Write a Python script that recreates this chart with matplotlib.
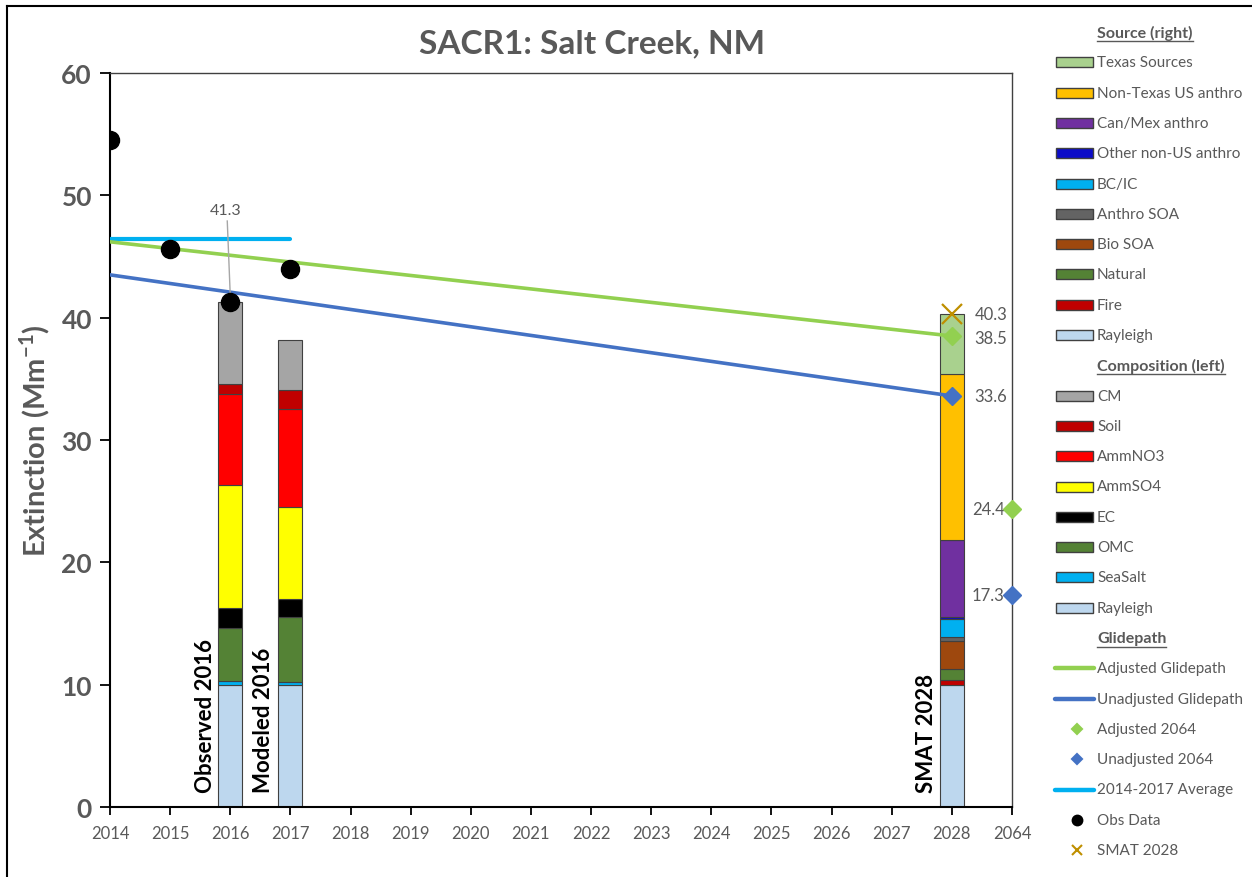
import numpy as np
import matplotlib
matplotlib.use('Agg')
import matplotlib.pyplot as plt
from matplotlib.patches import Rectangle
from matplotlib.lines import Line2D

plt.rcParams['font.family'] = ['Lato', 'DejaVu Sans']
plt.rcParams['mathtext.fontset'] = 'custom'
plt.rcParams['mathtext.rm'] = 'Lato'
plt.rcParams['mathtext.bf'] = 'Lato:bold'

#Datos del grafico
years = ['2014', '2015', '2016', '2017', '2018', '2019', '2020', '2021', '2022',
         '2023', '2024', '2025', '2026', '2027', '2028', '2064']

comp_names = ['Rayleigh', 'SeaSalt', 'OMC', 'EC', 'AmmSO4', 'AmmNO3', 'Soil', 'CM']
comp_colors = ['#BDD7EE', '#00B0F0', '#548235', '#000000', '#FFFF00', '#FF0000', '#C00000', '#A5A5A5']
observed_2016 = [10.0, 0.3, 4.3, 1.7, 10.0, 7.5, 0.8, 6.7]
modeled_2016 = [10.0, 0.2, 5.3, 1.5, 7.5, 8.0, 1.6, 4.1]

src_names = ['Rayleigh', 'Fire', 'Natural', 'Bio SOA', 'Anthro SOA', 'BC/IC',
             'Other non-US anthro', 'Can/Mex anthro', 'Non-Texas US anthro', 'Texas Sources']
src_colors = ['#BDD7EE', '#C00000', '#548235', '#9E480E', '#636363', '#00B0F0',
              '#0C0CC8', '#7030A0', '#FFC000', '#A9D18E']
smat_2028 = [10.0, 0.4, 0.9, 2.3, 0.3, 1.5, 0.1, 6.3, 13.6, 4.9]

obs_idx = [0, 1, 2, 3]
obs_values = [54.5, 45.6, 41.3, 44.0]
avg_value = 46.4
adj_glide = [46.2, 38.5]
unadj_glide = [43.5, 33.6]
adj_2064 = 24.4
unadj_2064 = 17.3
smat_total = 40.3

grey = '#595959'
W, H = 1252, 878

fig = plt.figure(figsize=(W / 100, H / 100), dpi=100)
ax = fig.add_axes([110 / W, 1 - 808 / H, 902 / W, 734 / H])

#Barras apiladas
def stack(x, vals, colors):
    bottom = 0
    for v, c in zip(vals, colors):
        ax.bar(x, v, bottom=bottom, width=0.4, color=c, edgecolor='#404040', linewidth=0.8, zorder=2)
        bottom += v

stack(2, observed_2016, comp_colors)
stack(3, modeled_2016, comp_colors)
stack(14, smat_2028, src_colors)

#Lineas
ax.plot([0, 3], [avg_value, avg_value], color='#00B0F0', lw=3, solid_capstyle='round', zorder=3)
ax.plot([0, 14], adj_glide, color='#92D050', lw=2.6, zorder=3)
ax.plot([0, 14], unadj_glide, color='#4472C4', lw=2.6, zorder=3)
ax.plot(obs_idx, obs_values, 'o', color='black', ms=13, zorder=5, ls='none')
ax.plot(14, adj_glide[1], 'D', color='#92D050', ms=9, zorder=4)
ax.plot(14, unadj_glide[1], 'D', color='#4472C4', ms=9, zorder=4)
ax.plot(15, adj_2064, 'D', color='#92D050', ms=9, zorder=4, clip_on=False)
ax.plot(15, unadj_2064, 'D', color='#4472C4', ms=9, zorder=4, clip_on=False)
ax.plot(14, smat_total, 'x', color='#BF8F00', ms=14, mew=1.6, zorder=6)

#Etiquetas
ax.plot([1.95, 2.0], [47.9, 41.8], color='#A6A6A6', lw=1, zorder=4)
ax.text(1.93, 48.2, '41.3', ha='center', va='bottom', fontsize=11.5, color=grey)
ax.text(14.38, smat_total, '40.3', ha='left', va='center', fontsize=12, color=grey)
ax.text(14.38, adj_glide[1] - 0.2, '38.5', ha='left', va='center', fontsize=12, color=grey)
ax.text(14.38, unadj_glide[1], '33.6', ha='left', va='center', fontsize=12, color=grey)
ax.text(14.88, adj_2064, '24.4', ha='right', va='center', fontsize=12, color=grey)
ax.text(14.88, unadj_2064, '17.3', ha='right', va='center', fontsize=12, color=grey)

ax.text(1.77, 1.2, 'Observed 2016', rotation=90, ha='right', va='bottom', fontsize=16, fontweight='bold')
ax.text(2.73, 1.2, 'Modeled 2016', rotation=90, ha='right', va='bottom', fontsize=16, fontweight='bold')
ax.text(13.76, 1.2, 'SMAT 2028', rotation=90, ha='right', va='bottom', fontsize=16, fontweight='bold')

#Ejes
ax.set_xlim(0, 15)
ax.set_ylim(0, 60)
ax.set_xticks(np.arange(len(years)))
ax.set_xticklabels(years, fontsize=12, color=grey)
ax.set_yticks(range(0, 61, 10))
ax.set_yticklabels([str(v) for v in range(0, 61, 10)], fontsize=19, fontweight='bold', color=grey)
ax.tick_params(axis='y', direction='out', length=7, width=1.3, pad=6)
ax.tick_params(axis='x', direction='out', length=6, width=1.3, pad=7)
for s in ['left', 'bottom']:
    ax.spines[s].set_linewidth(1.5)
    ax.spines[s].set_color('black')
for s in ['top', 'right']:
    ax.spines[s].set_linewidth(1)
    ax.spines[s].set_color('#404040')
ax.set_ylabel(r'Extinction (Mm$^{\mathbf{-1}}$)', fontsize=21, fontweight='bold', color=grey)
ax.yaxis.set_label_coords(-0.064, 0.5)
fig.text(592 / W, 1 - 44 / H, 'SACR1: Salt Creek, NM', ha='center', va='center',
         fontsize=24, fontweight='bold', color=grey)

#Leyenda manual
def fy(y):
    return 1 - y / H

def fx(x):
    return x / W

rows = [('h', 'Source (right)')]
for n, c in zip(src_names[::-1], src_colors[::-1]):
    rows.append(('p', n, c))
rows.append(('h', 'Composition (left)'))
for n, c in zip(comp_names[::-1], comp_colors[::-1]):
    rows.append(('p', n, c))
rows.append(('h', 'Glidepath'))
rows.append(('l', 'Adjusted Glidepath', '#92D050'))
rows.append(('l', 'Unadjusted Glidepath', '#4472C4'))
rows.append(('m', 'Adjusted 2064', '#92D050', 'D', 5))
rows.append(('m', 'Unadjusted 2064', '#4472C4', 'D', 5))
rows.append(('l', '2014-2017 Average', '#00B0F0'))
rows.append(('m', 'Obs Data', 'black', 'o', 7))
rows.append(('m', 'SMAT 2028', '#BF8F00', 'x', 7))

headers = []
for k, r in enumerate(rows):
    y = 33 + k * 30.3
    if r[0] == 'h':
        t = fig.text(fx(1097), fy(y), r[1], ha='left', va='center', fontsize=11.5,
                     fontweight='bold', color=grey)
        headers.append((t, y))
        continue
    if r[0] == 'p':
        fig.patches.append(Rectangle((fx(1056), fy(y + 5)), 37 / W, 10 / H, facecolor=r[2],
                                     edgecolor='#404040', lw=1, transform=fig.transFigure))
    elif r[0] == 'l':
        fig.lines.append(Line2D([fx(1055), fx(1094)], [fy(y), fy(y)], color=r[2], lw=3.2,
                                solid_capstyle='round', transform=fig.transFigure))
    else:
        fig.lines.append(Line2D([fx(1077)], [fy(y)], marker=r[3], color=r[2], ms=r[4],
                                mew=1.5, ls='none', transform=fig.transFigure))
    fig.text(fx(1097), fy(y), r[1], ha='left', va='center', fontsize=11, color=grey)

#Subrayado de titulos
fig.canvas.draw()
for t, y in headers:
    bb = t.get_window_extent()
    fig.lines.append(Line2D([bb.x0 / W, bb.x1 / W], [fy(y + 9), fy(y + 9)], color=grey, lw=1,
                            transform=fig.transFigure))

#Marco exterior
fig.lines.append(Line2D([fx(7), fx(7)], [fy(7), 0], color='black', lw=1.5, transform=fig.transFigure))
fig.lines.append(Line2D([fx(7), 1], [fy(7), fy(7)], color='black', lw=1.5, transform=fig.transFigure))

fig.savefig('out.png', dpi=100)
